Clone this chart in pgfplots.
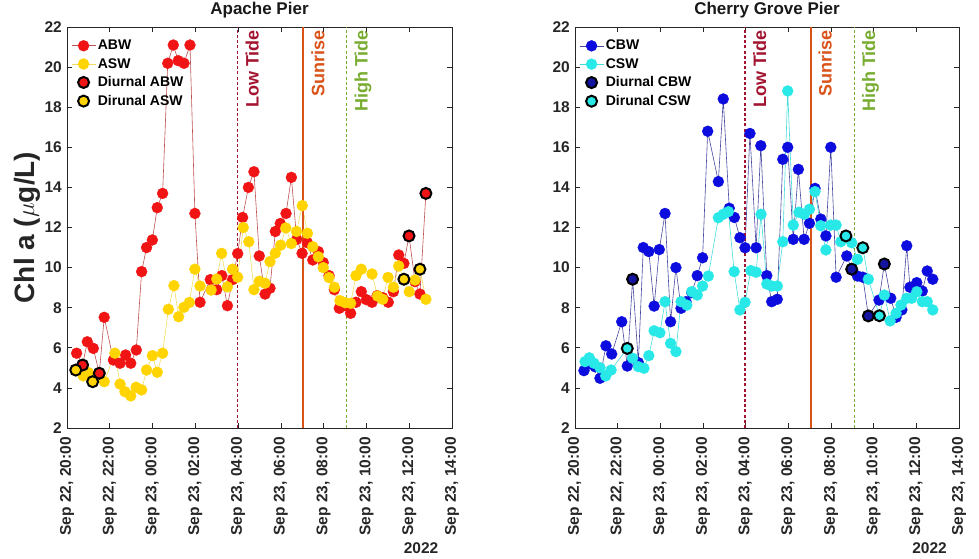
\documentclass[border=0pt]{standalone}
\usepackage{pgfplots}
\pgfplotsset{compat=1.18}
\usepackage{fontspec}
\setmainfont{Liberation Sans}

\definecolor{abwred}{RGB}{240,20,20}
\definecolor{abwline}{RGB}{190,80,80}
\definecolor{aswyel}{RGB}{255,212,0}
\definecolor{aswline}{RGB}{242,222,90}
\definecolor{cbwblue}{RGB}{12,12,222}
\definecolor{cbwdark}{RGB}{20,20,160}
\definecolor{cbwline}{RGB}{70,70,160}
\definecolor{cswcyan}{RGB}{40,232,232}
\definecolor{cswline}{RGB}{70,220,220}
\definecolor{lowtide}{RGB}{162,20,47}
\definecolor{sunrise}{RGB}{217,83,25}
\definecolor{hightide}{RGB}{119,172,48}
\definecolor{axgray}{RGB}{38,38,38}

\newcommand{\tickfont}{\fontsize{15.5}{18}\selectfont\bfseries}
\newcommand{\annfont}{\fontsize{18}{20}\selectfont\bfseries}

\pgfplotsset{chlaxis/.style={
  scale only axis, height=401pt,
  xmin=0, xmax=18, ymin=2, ymax=22,
  xtick={0,2,...,18}, ytick={2,4,...,22},
  xticklabels={{Sep 22, 20:00},{Sep 22, 22:00},{Sep 23, 00:00},{Sep 23, 02:00},{Sep 23, 04:00},{Sep 23, 06:00},{Sep 23, 08:00},{Sep 23, 10:00},{Sep 23, 12:00},{Sep 23, 14:00}},
  /pgf/number format/assume math mode=true,
  tick align=inside, tick pos=both, major tick length=5pt,
  axis line style={axgray, line width=0.6pt},
  major tick style={axgray, line width=0.6pt},
  ticklabel style={font=\tickfont, text=axgray},
  xticklabel style={rotate=90, anchor=east, inner sep=0pt},
  xticklabel shift=9pt,
  yticklabel style={anchor=east, inner sep=0pt},
  yticklabel shift=5pt,
  title style={font=\fontsize{17}{19}\selectfont\bfseries, text=black!90, at={(0.5,1)}, anchor=base, inner sep=0pt, yshift=6pt},
  clip=false,
  legend image code/.code={\draw[mark repeat=2,mark phase=2,##1] plot coordinates {(0pt,0pt) (12pt,0pt) (24pt,0pt)};},
  legend style={at={(0.008,0.975)}, anchor=north west, draw=none, fill=none,
    font=\fontsize{14}{16}\selectfont\bfseries, inner sep=1pt, row sep=3pt},
  legend cell align=left,
}}

\begin{document}
\begin{tikzpicture}
\path[use as bounding box] (0pt,0pt) rectangle (979pt,559pt);

% ---------------- Apache Pier ----------------
\begin{axis}[chlaxis, at={(67pt,131pt)}, anchor=south west, width=385pt,
  title={Apache Pier},
  ylabel={Chl a ($\mu$g/L)},
  every axis y label/.style={at={(-0.104,0.5)}, rotate=90, anchor=center,
    font=\fontsize{28}{30}\selectfont\bfseries, text=axgray},
]
\addplot[abwline, line width=0.6pt, mark=*, mark size=5.5pt, mark options={fill=abwred, draw=abwred, line width=0.3pt, solid}]
table {
0.45 5.73
0.73 5.14
0.95 6.30
1.23 5.97
1.51 4.73
1.74 7.52
2.17 5.39
2.48 5.23
2.74 5.64
2.98 5.23
3.24 5.89
3.49 9.80
3.72 11.00
3.99 11.38
4.22 12.99
4.47 13.70
4.71 20.19
4.97 21.10
5.20 20.32
5.47 20.19
5.75 21.10
5.98 12.70
6.22 8.27
6.70 9.40
7.00 8.90
7.24 9.60
7.50 8.10
7.74 9.40
7.98 10.70
8.21 12.50
8.48 14.00
8.74 14.78
8.99 10.58
9.26 8.68
9.49 8.97
9.74 11.80
9.97 12.20
10.24 12.70
10.49 14.50
10.74 11.41
10.99 10.71
11.24 11.24
11.49 10.38
11.75 10.80
11.98 10.25
12.25 9.60
12.50 8.90
12.73 7.97
13.00 8.10
13.26 7.72
13.51 8.27
13.76 8.80
14.00 8.40
14.26 8.27
14.50 8.60
14.76 8.50
15.02 8.27
15.26 8.80
15.51 10.63
15.75 10.21
15.99 11.58
16.27 9.30
16.50 8.68
16.78 13.70
};
\addlegendentry{ABW}
\addplot[aswline, line width=0.6pt, mark=*, mark size=5.5pt, mark options={fill=aswyel, draw=aswyel, line width=0.3pt, solid}]
table {
0.41 4.89
0.76 4.60
1.00 4.76
1.20 4.31
1.74 4.31
2.24 5.73
2.48 4.19
2.71 3.81
2.98 3.60
3.23 4.03
3.49 3.90
3.72 4.89
3.99 5.61
4.22 4.78
4.47 5.73
4.74 7.92
5.00 9.10
5.22 7.55
5.47 8.02
5.72 8.26
5.98 9.92
6.22 9.08
6.74 8.88
7.00 9.43
7.23 10.71
7.50 9.04
7.74 9.92
7.98 9.52
8.24 12.00
8.50 11.29
8.74 8.90
8.99 9.32
9.26 9.22
9.49 10.30
9.74 10.72
9.99 11.12
10.23 11.98
10.49 11.20
10.73 11.80
11.00 13.09
11.24 11.71
11.49 11.04
11.75 10.54
11.98 10.00
12.25 9.50
12.50 9.02
12.76 8.35
13.00 8.25
13.26 8.22
13.51 9.60
13.76 9.92
14.26 9.68
14.52 8.58
14.76 8.42
15.01 9.51
15.26 9.02
15.51 10.08
15.75 9.42
16.00 8.80
16.27 9.38
16.50 9.92
16.78 8.42
};
\addlegendentry{ASW}
\addplot[only marks, mark=*, mark size=5.5pt, mark options={fill=abwred, draw=black, line width=2pt}]
table {
0.73 5.14
1.51 4.73
15.99 11.58
16.78 13.70
};
\addlegendentry{Diurnal ABW}
\addplot[only marks, mark=*, mark size=5.5pt, mark options={fill=aswyel, draw=black, line width=2pt}]
table {
0.41 4.89
1.20 4.31
15.75 9.42
16.50 9.92
};
\addlegendentry{Dirunal ASW}
\addplot[forget plot, lowtide, line width=1.1pt, dash pattern=on 3pt off 2.2pt] coordinates {(7.97,2) (7.97,22)};
\addplot[forget plot, sunrise, line width=1.5pt] coordinates {(11.04,2) (11.04,22)};
\addplot[forget plot, hightide, line width=1.1pt, dash pattern=on 3pt off 2.2pt] coordinates {(13.07,2) (13.07,22)};
\node[rotate=90, anchor=north east, inner sep=0pt, font=\annfont, text=lowtide] at (axis cs:8.34,21.85) {Low Tide};
\node[rotate=90, anchor=north east, inner sep=0pt, font=\annfont, text=sunrise] at (axis cs:11.41,21.85) {Sunrise};
\node[rotate=90, anchor=north east, inner sep=0pt, font=\annfont, text=hightide] at (axis cs:13.44,21.85) {High Tide};
\end{axis}

% ---------------- Cherry Grove Pier ----------------
\begin{axis}[chlaxis, at={(575pt,131pt)}, anchor=south west, width=384pt,
  title={Cherry Grove Pier},
]
\addplot[cbwline, line width=0.6pt, mark=*, mark size=5.5pt, mark options={fill=cbwblue, draw=cbwblue, line width=0.3pt, solid}]
table {
0.42 4.86
0.70 5.20
0.95 5.05
1.17 4.48
1.45 6.10
1.72 5.69
2.19 7.30
2.45 5.09
2.70 9.42
2.97 5.26
3.20 11.00
3.46 10.80
3.71 8.08
3.95 10.90
4.22 12.70
4.48 7.30
4.73 10.00
4.97 7.97
5.20 8.30
5.47 8.75
5.73 9.60
5.98 10.49
6.22 16.80
6.72 14.29
6.95 18.41
7.23 12.96
7.47 12.50
7.73 11.49
7.97 10.99
8.20 16.69
8.49 10.99
8.71 16.08
8.99 9.60
9.22 8.30
9.48 8.42
9.74 15.40
9.97 16.00
10.23 11.41
10.47 14.90
10.74 11.41
10.99 12.21
11.25 13.95
11.52 12.42
11.76 11.58
11.99 16.00
12.24 9.52
12.74 10.58
12.97 9.92
13.24 9.58
13.49 9.52
13.75 7.59
14.25 8.38
14.50 10.18
14.80 8.47
15.05 7.52
15.32 7.89
15.55 11.09
15.70 9.02
16.02 9.25
16.28 8.83
16.51 9.83
16.77 9.42
};
\addlegendentry{CBW}
\addplot[cswline, line width=0.6pt, mark=*, mark size=5.5pt, mark options={fill=cswcyan, draw=cswcyan, line width=0.3pt, solid}]
table {
0.47 5.31
0.67 5.50
0.89 5.23
1.17 5.01
1.44 4.60
1.69 4.89
2.45 5.97
2.70 5.48
2.97 5.06
3.23 4.98
3.46 5.61
3.71 6.85
3.98 6.75
4.22 8.30
4.48 6.22
4.73 5.81
4.97 8.30
5.24 8.13
5.47 8.80
5.73 8.63
5.98 9.08
6.25 9.58
6.72 12.49
6.95 12.66
7.19 12.79
7.46 9.80
7.73 7.89
7.97 8.27
8.24 9.85
8.49 9.77
8.72 12.66
8.99 9.18
9.22 9.08
9.48 9.08
9.74 11.29
9.97 18.81
10.23 12.12
10.50 12.76
10.75 12.66
10.99 12.91
11.25 13.79
11.52 12.09
11.76 10.88
11.99 12.12
12.24 12.12
12.46 11.29
12.70 11.58
12.97 11.24
13.24 10.41
13.49 10.99
13.75 9.42
14.27 7.60
14.50 8.63
14.77 7.34
15.05 7.72
15.28 8.13
15.55 8.47
15.78 8.47
16.02 8.80
16.28 8.30
16.51 8.30
16.77 7.89
};
\addlegendentry{CSW}
\addplot[only marks, mark=*, mark size=5.5pt, mark options={fill=cbwdark, draw=black, line width=2pt}]
table {
2.70 9.42
12.97 9.92
13.75 7.59
14.50 10.18
};
\addlegendentry{Diurnal CBW}
\addplot[only marks, mark=*, mark size=5.5pt, mark options={fill=cswcyan, draw=black, line width=2pt}]
table {
2.45 5.97
12.70 11.58
13.49 10.99
14.27 7.60
};
\addlegendentry{Dirunal CSW}
\addplot[forget plot, lowtide, line width=1.1pt, dash pattern=on 3pt off 2.2pt] coordinates {(7.97,2) (7.97,22)};
\addplot[forget plot, sunrise, line width=1.5pt] coordinates {(11.06,2) (11.06,22)};
\addplot[forget plot, hightide, line width=1.1pt, dash pattern=on 3pt off 2.2pt] coordinates {(13.08,2) (13.08,22)};
\node[rotate=90, anchor=north east, inner sep=0pt, font=\annfont, text=lowtide] at (axis cs:8.34,21.85) {Low Tide};
\node[rotate=90, anchor=north east, inner sep=0pt, font=\annfont, text=sunrise] at (axis cs:11.41,21.85) {Sunrise};
\node[rotate=90, anchor=north east, inner sep=0pt, font=\annfont, text=hightide] at (axis cs:13.45,21.85) {High Tide};
\end{axis}

\node[font=\tickfont, text=axgray] at (421pt,11pt) {2022};
\node[font=\tickfont, text=axgray] at (929.5pt,11pt) {2022};
\end{tikzpicture}
\end{document}
